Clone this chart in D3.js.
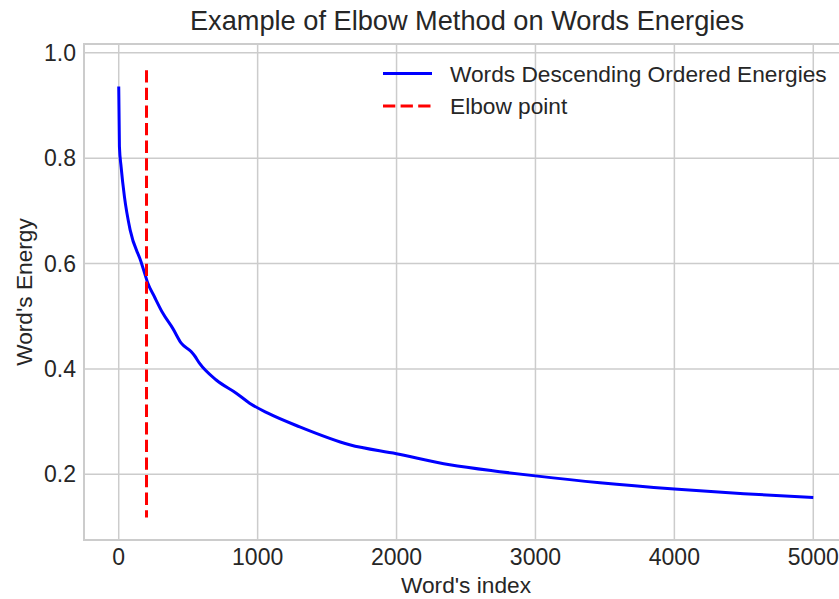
<!DOCTYPE html>
<html>
<head>
<meta charset="utf-8">
<script src="https://cdn.jsdelivr.net/npm/d3@7"></script>
<style>
  body { margin: 0; background: #fff; }
  text { font-family: "Liberation Sans", Arial, sans-serif; fill: #262626; }
</style>
</head>
<body>
<script>
// word index vs energy
const wordIndex = [0, 5, 17, 41, 82, 161, 185, 209, 257, 317, 389, 450, 521, 546, 581, 702, 846, 942, 1074, 1303, 1662, 1999, 2383, 2743, 3000, 3464, 4000, 4500, 5000];
const wordEnergy = [0.936, 0.822, 0.784, 0.727, 0.664, 0.603, 0.583, 0.563, 0.537, 0.506, 0.477, 0.449, 0.433, 0.425, 0.411, 0.379, 0.354, 0.335, 0.316, 0.290, 0.256, 0.239, 0.218, 0.205, 0.197, 0.184, 0.172, 0.163, 0.156];
const elbowX = 200;
const elbowRange = [0.118, 0.967];
const xTicks = [0, 1000, 2000, 3000, 4000, 5000];
const yTicks = [0.2, 0.4, 0.6, 0.8, 1.0];

const W = 839, H = 599;
const margin = {top: 44, left: 84, right: -9, bottom: 59};

const svg = d3.select("body").append("svg")
  .attr("width", W).attr("height", H);

let x = d3.scaleLinear().domain([-250, 5250]).range([margin.left, W - margin.right]);
let y = d3.scaleLinear().domain([0.0753, 1.0167]).range([H - margin.bottom, margin.top]);

// grid
svg.append("g").selectAll("line").data(xTicks).enter().append("line")
  .attr("x1", d => x(d)).attr("x2", d => x(d))
  .attr("y1", y.range()[0]).attr("y2", y.range()[1])
  .attr("stroke", "#cccccc").attr("stroke-width", 1.5);
svg.append("g").selectAll("line").data(yTicks).enter().append("line")
  .attr("y1", d => y(d)).attr("y2", d => y(d))
  .attr("x1", x.range()[0]).attr("x2", x.range()[1])
  .attr("stroke", "#cccccc").attr("stroke-width", 1.5);

// frame
svg.append("rect")
  .attr("x", x.range()[0]).attr("y", y.range()[1])
  .attr("width", x.range()[1] - x.range()[0])
  .attr("height", y.range()[0] - y.range()[1])
  .attr("fill", "none").attr("stroke", "#cccccc").attr("stroke-width", 2);

// tick labels
svg.append("g").selectAll("text").data(xTicks).enter().append("text")
  .attr("x", d => x(d)).attr("y", 565)
  .attr("text-anchor", "middle").attr("font-size", "23px")
  .text(d => d);
svg.append("g").selectAll("text").data(yTicks).enter().append("text")
  .attr("x", 76).attr("y", d => y(d) + 8)
  .attr("text-anchor", "end").attr("font-size", "23px")
  .text(d => d.toFixed(1));

// lines
const pts = wordIndex.map((d, i) => [d, wordEnergy[i]]);
svg.append("path").datum(pts)
  .attr("d", d3.line().x(d => x(d[0])).y(d => y(d[1])).curve(d3.curveMonotoneX))
  .attr("fill", "none").attr("stroke", "#0000ff").attr("stroke-width", 3)
  .attr("stroke-linejoin", "round");

svg.append("line")
  .attr("x1", x(elbowX)).attr("x2", x(elbowX))
  .attr("y1", y(elbowRange[1])).attr("y2", y(elbowRange[0]))
  .attr("stroke", "#ff0000").attr("stroke-width", 3)
  .attr("stroke-dasharray", "12.3,5.3");

// legend
const legend = [
  {label: "Words Descending Ordered Energies", color: "#0000ff", dash: null},
  {label: "Elbow point", color: "#ff0000", dash: "12.3,5.3"}
];
legend.forEach((l, i) => {
  let ly = 73.5 + i * 32.5;
  svg.append("line").attr("x1", 383).attr("x2", 432).attr("y1", ly).attr("y2", ly)
    .attr("stroke", l.color).attr("stroke-width", 3)
    .attr("stroke-dasharray", l.dash);
  svg.append("text").attr("x", 450).attr("y", ly + 8)
    .attr("font-size", "22.7px").text(l.label);
});

// title & axis labels
svg.append("text").attr("x", 467).attr("y", 30)
  .attr("text-anchor", "middle").attr("font-size", "27.2px")
  .text("Example of Elbow Method on Words Energies");
svg.append("text").attr("x", 466).attr("y", 593)
  .attr("text-anchor", "middle").attr("font-size", "22.7px")
  .text("Word's index");
svg.append("text")
  .attr("transform", "translate(32," + (y.range()[0] + y.range()[1]) / 2 + ") rotate(-90)")
  .attr("text-anchor", "middle").attr("font-size", "22.7px")
  .text("Word's Energy");
</script>
</body>
</html>
